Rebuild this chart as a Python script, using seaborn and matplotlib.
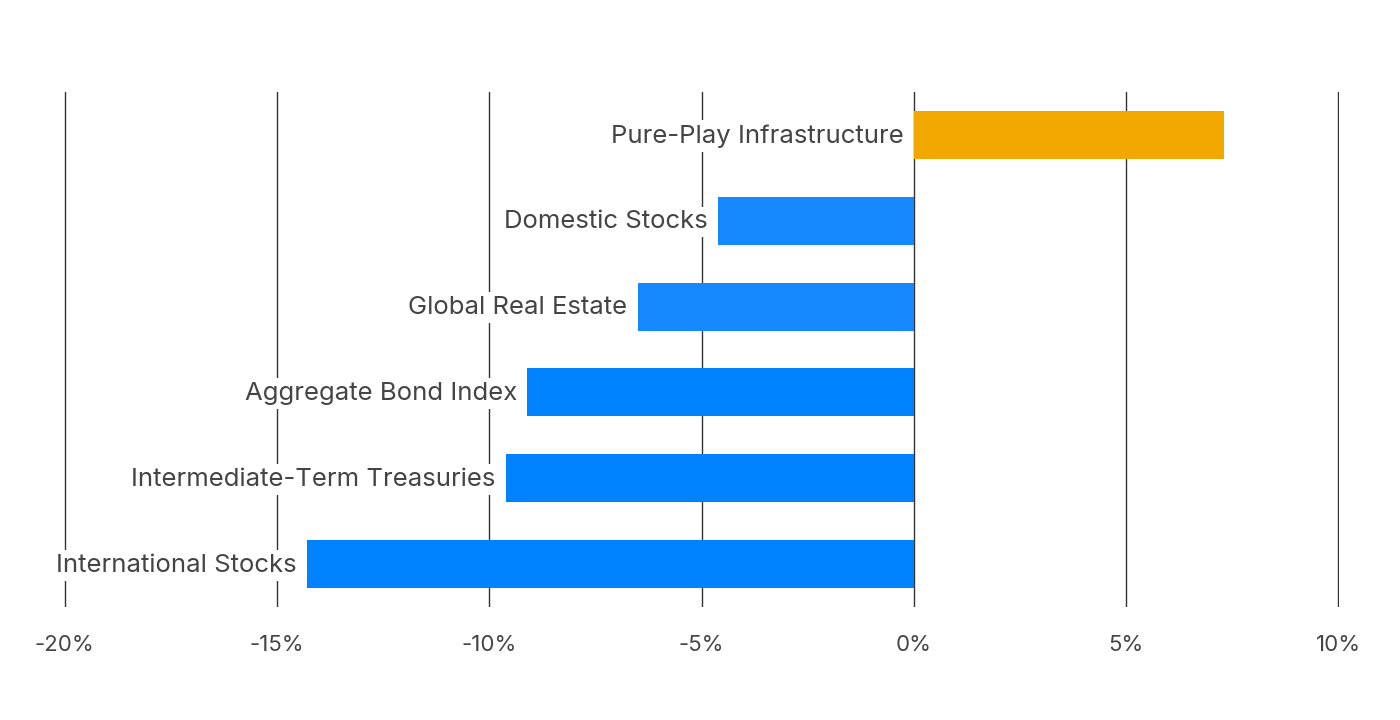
import matplotlib
matplotlib.use("Agg")
import matplotlib.pyplot as plt
import seaborn as sns
import pandas as pd

categories = ["Pure-Play Infrastructure", "Domestic Stocks", "Global Real Estate",
              "Aggregate Bond Index", "Intermediate-Term Treasuries", "International Stocks"]
values = [7.3, -4.6, -6.5, -9.1, -9.6, -14.3]
bar_colors = ["#F2A600", "#1688FE", "#1688FE", "#0082FF", "#0082FF", "#0082FF"]
tick_values = [-20, -15, -10, -5, 0, 5, 10]
tick_labels = ["-20%", "-15%", "-10%", "-5%", "0%", "5%", "10%"]

sns.set_theme(style="white")
plt.rcParams["font.family"] = ["Inter", "DejaVu Sans"]

df = pd.DataFrame({"category": categories, "value": values})

fig = plt.figure(figsize=(14, 7.2), dpi=100)
ax = fig.add_axes([64 / 1400, 1 - 607 / 720, (1339 - 64) / 1400, (607 - 92) / 720])

sns.barplot(data=df, x="value", y="category", hue="category", palette=bar_colors,
            order=categories, hue_order=categories, orient="h", width=0.56,
            saturation=1, linewidth=0, legend=False, ax=ax, zorder=3)

ax.set_xlim(-20.02, 10.02)
ax.set_ylim(5.5, -0.5)
ax.set_xticks(tick_values)
ax.set_xticklabels(tick_labels)
ax.set_yticks([])
ax.set_xlabel("")
ax.set_ylabel("")
ax.grid(axis="x", color="#333333", linewidth=1.0, zorder=0)
ax.grid(axis="y", visible=False)
for s in ax.spines.values():
    s.set_visible(False)
ax.tick_params(axis="x", length=0, pad=20, labelsize=16, labelcolor="#444444")

for i, (cat, v) in enumerate(zip(categories, values)):
    xpos = min(v, 0)
    ax.annotate(cat, xy=(xpos, i), xytext=(-7.5, 1), textcoords="offset points",
                ha="right", va="center_baseline", fontsize=18.5, color="#444444", zorder=4,
                bbox=dict(boxstyle="square,pad=0.15", facecolor="white", edgecolor="none"))

fig.savefig("out.png", dpi=100, facecolor="white")
